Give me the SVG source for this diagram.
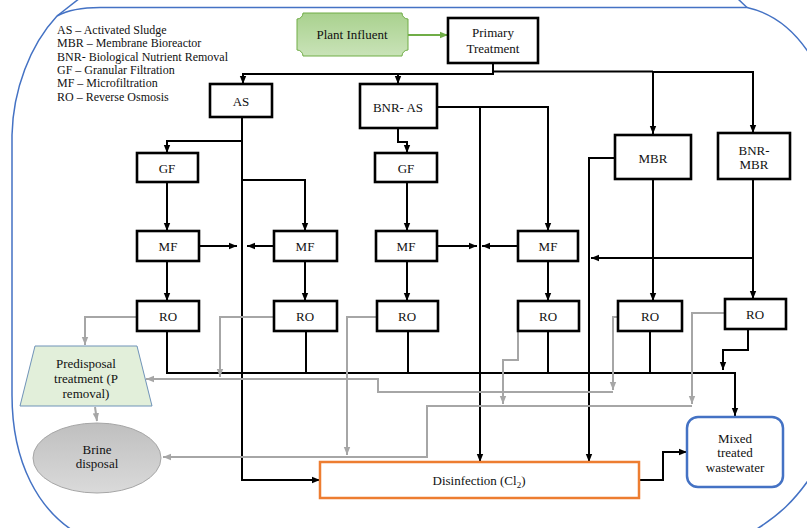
<svg xmlns="http://www.w3.org/2000/svg" width="807" height="528" viewBox="0 0 807 528">
<style>
text{font-family:"Liberation Serif","Times New Roman",serif;font-size:13px;fill:#111;text-anchor:middle}
.leg text{text-anchor:start;font-size:12px}
.box{fill:#fff;stroke:#000;stroke-width:2.6}
.c{fill:none;stroke:#000;stroke-width:2}
.g{fill:none;stroke:#a6a6a6;stroke-width:2}
.ca{marker-end:url(#ab)}
.ga{marker-end:url(#ag)}
.frame{fill:none;stroke:#4472c4;stroke-width:1.5}
</style>
<defs>
<marker id="ab" viewBox="0 0 10 10" refX="10" refY="5" markerWidth="8" markerHeight="8" markerUnits="userSpaceOnUse" orient="auto"><path d="M0,1 L10,5 L0,9 z" fill="#000"/></marker>
<marker id="ag" viewBox="0 0 10 10" refX="10" refY="5" markerWidth="8" markerHeight="8" markerUnits="userSpaceOnUse" orient="auto"><path d="M0,1 L10,5 L0,9 z" fill="#a6a6a6"/></marker>
<marker id="agr" viewBox="0 0 10 10" refX="10" refY="5" markerWidth="8" markerHeight="8" markerUnits="userSpaceOnUse" orient="auto"><path d="M0,1 L10,5 L0,9 z" fill="#70ad47"/></marker>
<linearGradient id="gg" x1="0" y1="0" x2="0" y2="1"><stop offset="0" stop-color="#a9d18e"/><stop offset="1" stop-color="#c9e3b8"/></linearGradient>
<linearGradient id="gb" x1="0" y1="0" x2="0" y2="1"><stop offset="0" stop-color="#bfbfbf"/><stop offset="1" stop-color="#dadada"/></linearGradient>
</defs>
<g id="frame">
<path class="frame" d="M80,-2 L57,16"/>
<path class="frame" d="M57,16 C68,10 82,7.5 100,7.5 L747,7.5 C772,13 795,30 812,58"/>
<path class="frame" d="M737,-2 L747,7.5"/>
<path class="frame" d="M57,16 C30,45 13,90 12,135 L12,395 C12,465 40,510 75,532"/>
<path class="frame" d="M812,475 C795,500 780,515 752,532"/>
</g>
<g id="legend" class="leg">
<text x="57" y="34">AS – Activated Sludge</text>
<text x="57" y="47.3">MBR – Membrane Bioreactor</text>
<text x="57" y="60.6">BNR- Biological Nutrient Removal</text>
<text x="57" y="73.9">GF – Granular Filtration</text>
<text x="57" y="87.2">MF – Microfiltration</text>
<text x="57" y="100.5">RO – Reverse Osmosis</text>
</g>
<g id="connectors">
<path d="M408,35 H448" fill="none" stroke="#70ad47" stroke-width="2" marker-end="url(#agr)"/>
<path class="c ca" d="M493,63 V74 H243 V84"/>
<path class="c ca" d="M398,74 V84"/>
<path class="c" d="M493,71.5 H653" stroke-width="3.2"/>
<path class="c ca" d="M653,72 V134"/>
<path class="c ca" d="M653,72 H753 V133"/>
<path class="c ca" d="M242,117 V480 H320"/>
<path class="c ca" d="M242,141 H167 V153"/>
<path class="c ca" d="M242,180 H305 V231"/>
<path class="c ca" d="M167,182 V231"/>
<path class="c ca" d="M199,246 H237"/>
<path class="c ca" d="M274,246 H247"/>
<path class="c ca" d="M167,261 V301"/>
<path class="c ca" d="M305,261 V301"/>
<path class="c" d="M167,331 V373 H735"/>
<path class="c ca" d="M735,372 V416" stroke-width="3"/>
<path class="c" d="M306,331 V373 M408,331 V373 M548,331 V373 M650,331 V373"/>
<path class="c ca" d="M398,128 V142 H407 V153"/>
<path class="c ca" d="M407,182 V231"/>
<path class="c ca" d="M437,246 H477"/>
<path class="c ca" d="M518,246 H482"/>
<path class="c ca" d="M437,107 H548 V231"/>
<path class="c ca" d="M480,107 V462"/>
<path class="c ca" d="M407,261 V301"/>
<path class="c ca" d="M548,261 V301"/>
<path class="c ca" d="M615,158 H589 V462"/>
<path class="c ca" d="M653,179 V301"/>
<path class="c ca" d="M753,179 V299"/>
<path class="c ca" d="M753,258 H591"/>
<path class="c ca" d="M748,329 V350 H723 V370"/>
<path class="c ca" d="M639,480 H663 V452 H687"/>
<path class="g ga" d="M137,317 H85 V345"/>
<path class="g ga" d="M274,317 H220 V377"/>
<path class="g ga" d="M618,317 H613 V390"/>
<path class="g ga" d="M613,392 H378 V379 H146"/>
<path class="g ga" d="M377,317 H347 V455"/>
<path class="g ga" d="M518,317 V360 H503 V404"/>
<path class="g ga" d="M725,313 H692 V404"/>
<path class="g ga" d="M692,406 H427 V457 H163"/>
<path class="g ga" d="M95,407 L97,421"/>
</g>
<g id="plant-influent">
<path d="M303,13 H402 A6,6 0 0 0 408,19 V50 A6,6 0 0 0 402,56 H303 A6,6 0 0 0 297,50 V19 A6,6 0 0 0 303,13 Z" fill="url(#gg)" stroke="#70ad47" stroke-width="1"/>
<text x="352" y="39">Plant Influent</text>
</g>
<g id="primary"><rect class="box" x="448" y="18" width="90" height="45"/><text x="493" y="37">Primary</text><text x="493" y="53">Treatment</text></g>
<g id="as"><rect class="box" x="210" y="84" width="62" height="33"/><text x="241" y="106">AS</text></g>
<g id="bnr-as"><rect class="box" x="360" y="84" width="77" height="44"/><text x="398" y="112">BNR- AS</text></g>
<g id="mbr"><rect class="box" x="615" y="135" width="76" height="44"/><text x="653" y="163">MBR</text></g>
<g id="bnr-mbr"><rect class="box" x="718" y="133" width="72" height="46"/><text x="754" y="155">BNR-</text><text x="754" y="169">MBR</text></g>
<g id="gf1"><rect class="box" x="137" y="153" width="61" height="29"/><text x="167" y="173">GF</text></g>
<g id="gf2"><rect class="box" x="375" y="153" width="62" height="29"/><text x="406" y="173">GF</text></g>
<g id="mf1"><rect class="box" x="137" y="231" width="62" height="30"/><text x="168" y="251">MF</text></g>
<g id="mf2"><rect class="box" x="274" y="231" width="63" height="30"/><text x="305" y="251">MF</text></g>
<g id="mf3"><rect class="box" x="376" y="231" width="61" height="30"/><text x="406" y="251">MF</text></g>
<g id="mf4"><rect class="box" x="518" y="231" width="60" height="30"/><text x="548" y="251">MF</text></g>
<g id="ro1"><rect class="box" x="137" y="301" width="62" height="30"/><text x="168" y="321">RO</text></g>
<g id="ro2"><rect class="box" x="274" y="301" width="63" height="30"/><text x="305" y="321">RO</text></g>
<g id="ro3"><rect class="box" x="377" y="301" width="61" height="30"/><text x="407" y="321">RO</text></g>
<g id="ro4"><rect class="box" x="518" y="301" width="61" height="30"/><text x="548" y="321">RO</text></g>
<g id="ro5"><rect class="box" x="618" y="301" width="64" height="30"/><text x="650" y="321">RO</text></g>
<g id="ro6"><rect class="box" x="725" y="299" width="61" height="30"/><text x="755" y="319">RO</text></g>
<g id="predisposal"><polygon points="35,346 137,346 152,406 20,406" fill="#e2efda" stroke="#6f93b8" stroke-width="1"/><text x="86" y="368">Predisposal</text><text x="86" y="383">treatment (P</text><text x="86" y="398">removal)</text></g>
<g id="brine"><ellipse cx="97" cy="458" rx="64" ry="35" fill="url(#gb)" stroke="#a6a6a6" stroke-width="1"/><text x="97" y="454">Brine</text><text x="97" y="468">disposal</text></g>
<g id="disinfection"><rect x="320" y="462" width="319" height="36" fill="#fff" stroke="#ed7d31" stroke-width="2.5"/><text x="479" y="485">Disinfection (Cl<tspan dy="3" font-size="9">2</tspan><tspan dy="-3">)</tspan></text></g>
<g id="mixed"><rect x="687" y="417" width="96" height="70" rx="11" fill="#fff" stroke="#4472c4" stroke-width="2.5"/><text x="735" y="443">Mixed</text><text x="735" y="457">treated</text><text x="735" y="472">wastewater</text></g>
</svg>
